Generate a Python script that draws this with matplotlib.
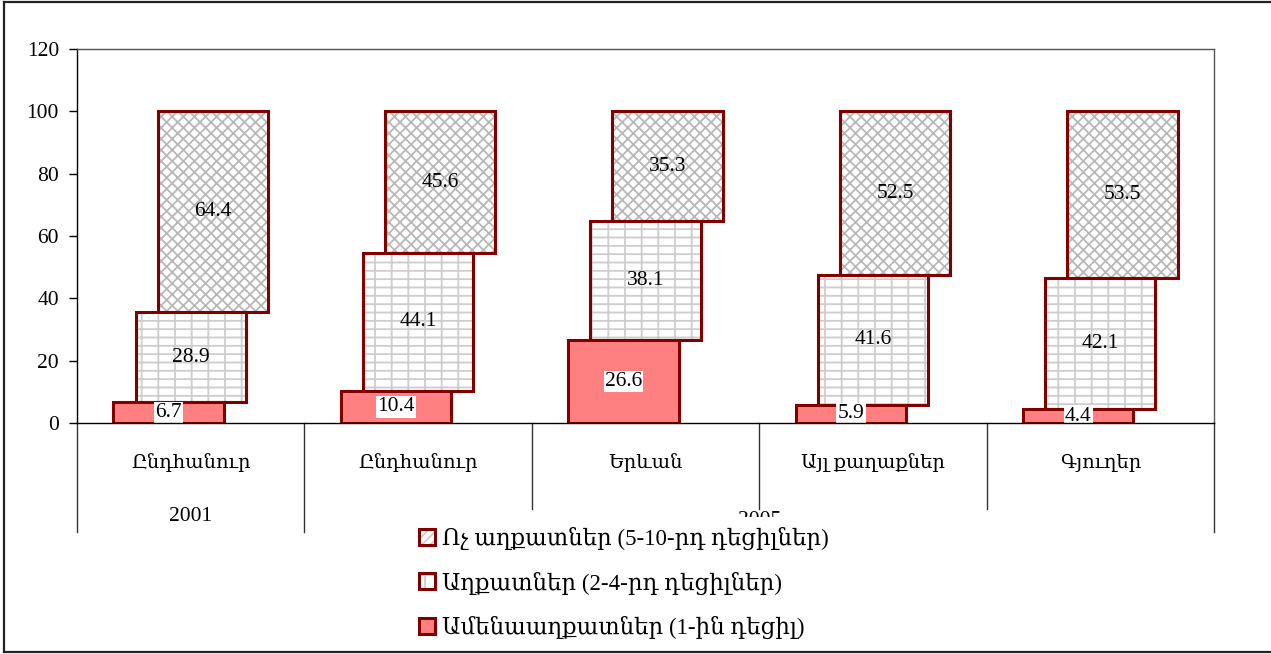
import numpy as np
import matplotlib
matplotlib.use('Agg')
import matplotlib.pyplot as plt
from matplotlib.patches import Patch
from matplotlib.legend_handler import HandlerTuple
from matplotlib.lines import Line2D

plt.rcParams['font.family'] = ['Liberation Serif', 'DejaVu Serif', 'DejaVu Sans']
plt.rcParams['hatch.linewidth'] = 1.3

# poverty shares by decile group, percent
categories = ['Ընդհանուր', 'Ընդհանուր', 'Երևան', 'Այլ քաղաքներ', 'Գյուղեր']
groups = ['2001', '2005']
extreme_poor = [6.7, 10.4, 26.6, 5.9, 4.4]
poor = [28.9, 44.1, 38.1, 41.6, 42.1]
non_poor = [64.4, 45.6, 35.3, 52.5, 53.5]
series_names = ['Ոչ աղքատներ (5-10-րդ դեցիլներ)',
                'Աղքատներ (2-4-րդ դեցիլներ)',
                'Ամենաաղքատներ (1-ին դեցիլ)']
yticks = [0, 20, 40, 60, 80, 100, 120]

dark_red = '#800000'
pink = '#ff8080'
hatch_gray = '#cdcdcd'

fig = plt.figure(figsize=(12.71, 6.54), dpi=100)
ax = fig.add_axes([77/1271, 1 - 423/654, (1214 - 77)/1271, (423 - 49)/654])

x = np.arange(len(categories))
w = 0.485
off = 0.097
bottom_poor = np.array(extreme_poor)
bottom_non = bottom_poor + np.array(poor)

# lowest segment
ax.bar(x - off, extreme_poor, width=w, color=pink, edgecolor=dark_red, linewidth=2.2, zorder=3)
# middle segment: gray hatch underneath, dark red outline on top
ax.bar(x, poor, bottom=bottom_poor, width=w, color='white', hatch='--|',
       edgecolor=hatch_gray, linewidth=0, zorder=2)
ax.bar(x, poor, bottom=bottom_poor, width=w, fill=False, edgecolor=dark_red,
       linewidth=2.2, zorder=2.5)
# upper segment
ax.bar(x + off, non_poor, bottom=bottom_non, width=w, color='white', hatch='xxx',
       edgecolor='#b8b8b8', linewidth=0, zorder=1)
ax.bar(x + off, non_poor, bottom=bottom_non, width=w, fill=False, edgecolor=dark_red,
       linewidth=2.2, zorder=1.5)

fs = 15.5
for i in range(len(categories)):
    ax.text(x[i] - off, extreme_poor[i] / 2, f'{extreme_poor[i]:.1f}', ha='center', va='center',
            fontsize=fs, zorder=5,
            bbox=dict(facecolor='white', edgecolor='none', pad=1))
    ax.text(x[i], bottom_poor[i] + poor[i] / 2, f'{poor[i]:.1f}', ha='center', va='center',
            fontsize=fs, zorder=5)
    ax.text(x[i] + off, bottom_non[i] + non_poor[i] / 2, f'{non_poor[i]:.1f}', ha='center',
            va='center', fontsize=fs, zorder=5)

ax.set_xlim(-0.5, len(categories) - 0.5)
ax.set_ylim(0, 120)
ax.set_yticks(yticks)
ax.tick_params(axis='y', direction='out', length=6, width=1, labelsize=fs, pad=7)
ax.set_xticks([])
ax.spines['left'].set_color('black')
ax.spines['bottom'].set_color('black')
ax.spines['bottom'].set_zorder(6)
ax.spines['top'].set_color('#555555')
ax.spines['right'].set_color('#555555')
for s in ax.spines.values():
    s.set_linewidth(1)

# two-level category axis below the plot
tr = ax.get_xaxis_transform()
for i, c in enumerate(categories):
    ax.text(x[i], -0.107, c, transform=tr, ha='center', va='center', fontsize=14)
bounds = np.arange(len(categories) + 1) - 0.5
for j, b in enumerate(bounds):
    depth = -0.291 if j in (0, 1, len(bounds) - 1) else -0.23
    ax.plot([b, b], [0, depth], transform=tr, color='#333333', lw=1, clip_on=False)
ax.text(x[0], -0.251, groups[0], transform=tr, ha='center', va='center', fontsize=fs)
ax.text(np.mean(x[1:]), -0.262, groups[1], transform=tr, ha='center', va='center', fontsize=fs)

# legend with gray patterns inside dark red frames
def handle(hatch, face):
    inner = Patch(facecolor=face, hatch=hatch, edgecolor=hatch_gray, linewidth=0)
    frame = Patch(fill=False, edgecolor=dark_red, linewidth=2.2)
    return (inner, frame)

handles = [handle('////', 'white'), handle('-|', 'white'), handle(None, pink)]
leg = fig.legend(handles, series_names, handler_map={tuple: HandlerTuple(ndivide=1)},
                 loc='upper left', bbox_to_anchor=(398/1271, 1 - 506/654),
                 fontsize=16.5, frameon=True, facecolor='white', edgecolor='none',
                 framealpha=1, fancybox=False, borderpad=0.4, labelspacing=0.95,
                 handlelength=0.7, handleheight=0.7, handletextpad=0.3)
leg.set_zorder(10)

# outer border of the chart area
for xs, ys in [([4/1271, 4/1271], [2/654, 1 - 2/654]),
               ([4/1271, 1], [1 - 2/654, 1 - 2/654]),
               ([4/1271, 1], [2/654, 2/654])]:
    fig.add_artist(Line2D(xs, ys, color='#222222', lw=1.6))

fig.savefig('out.png', dpi=100)
